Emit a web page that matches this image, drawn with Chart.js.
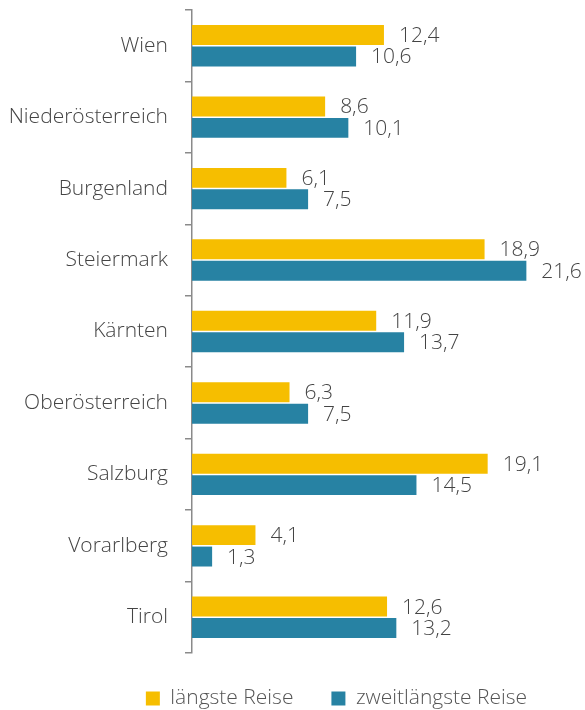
<!DOCTYPE html>
<html>
<head>
    <meta charset="utf-8">
    <title>Reisen nach Bundesland</title>
    <script src="https://cdn.jsdelivr.net/npm/chart.js@4.4.0/dist/chart.umd.min.js"></script>
    <style>
        body { margin: 0; background: #fff; }
        #wrap { width: 585px; height: 710px; }
    </style>
</head>
<body>
    <div id="wrap"><canvas id="chart"></canvas></div>
    <script>
        const regions = ['Wien', 'Niederösterreich', 'Burgenland', 'Steiermark', 'Kärnten',
            'Oberösterreich', 'Salzburg', 'Vorarlberg', 'Tirol'];
        const longestTrip = [12.4, 8.6, 6.1, 18.9, 11.9, 6.3, 19.1, 4.1, 12.6];
        const secondTrip = [10.6, 10.1, 7.5, 21.6, 13.7, 7.5, 14.5, 1.3, 13.2];

        // draws the value next to each bar end, comma as decimal sign
        const valueLabels = {
            id: 'valueLabels',
            afterLayout(chart) {
                // legend sits a bit right of the page centre in the original
                const lg = chart.legend;
                lg.left += 47;
                lg.right += 47;
                lg.top -= 3;
                lg.bottom -= 3;
            },
            afterDatasetsDraw(chart) {
                const ctx = chart.ctx;
                ctx.save();
                ctx.font = '300 21px "Open Sans"';
                ctx.fillStyle = '#444';
                ctx.textBaseline = 'middle';
                chart.data.datasets.forEach((ds, i) => {
                    chart.getDatasetMeta(i).data.forEach((bar, j) => {
                        const txt = ds.data[j].toFixed(1).replace('.', ',');
                        ctx.fillText(txt, bar.x + 15, bar.y + 1);
                    });
                });
                ctx.restore();
            }
        };

        new Chart(document.getElementById('chart'), {
            type: 'bar',
            data: {
                labels: regions,
                datasets: [{
                    label: 'längste Reise',
                    data: longestTrip,
                    backgroundColor: '#F6BE00'
                }, {
                    label: 'zweitlängste Reise',
                    data: secondTrip,
                    backgroundColor: '#2782A3'
                }]
            },
            options: {
                indexAxis: 'y',
                responsive: true,
                maintainAspectRatio: false,
                animation: false,
                categoryPercentage: 0.6,
                barPercentage: 0.93,
                layout: { padding: { top: 10, right: 6, left: 0, bottom: -12 } },
                scales: {
                    x: {
                        display: false,
                        min: 0,
                        max: 25
                    },
                    y: {
                        afterFit(scale) {
                            scale.width = 192;
                            scale.paddingTop = 0;
                            scale.paddingBottom = 0;
                        },
                        border: { display: true, color: '#8a8a8a', width: 1.5 },
                        grid: {
                            offset: true,
                            drawOnChartArea: false,
                            color: '#8a8a8a',
                            lineWidth: 1.5,
                            tickLength: 7
                        },
                        ticks: {
                            color: '#444',
                            padding: 17,
                            font: { family: '"Open Sans"', size: 21, weight: 300 }
                        }
                    }
                },
                plugins: {
                    tooltip: { enabled: false },
                    legend: {
                        position: 'bottom',
                        labels: {
                            boxWidth: 14,
                            boxHeight: 14,
                            padding: 38,
                            color: '#555',
                            font: { family: '"Open Sans"', size: 21, weight: 300 }
                        }
                    }
                }
            },
            plugins: [valueLabels]
        });
    </script>
</body>
</html>
